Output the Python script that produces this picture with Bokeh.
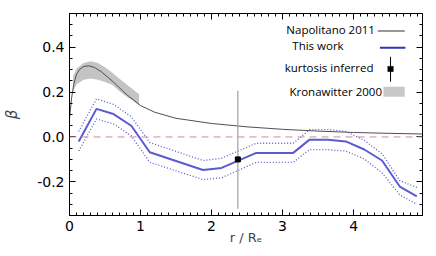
from bokeh.plotting import figure
from bokeh.models import (Range1d, LinearAxis, FixedTicker, PrintfTickFormatter,
                          Span, Label, Arrow, BoxAnnotation, CustomLabelingPolicy)
from bokeh.embed import file_html
from bokeh.resources import INLINE

# Napolitano 2011 model curve
nap_r = [0.0, 0.03, 0.06, 0.1, 0.15, 0.2, 0.27, 0.35, 0.45, 0.6, 0.8, 1.0,
         1.2, 1.5, 2.0, 2.5, 3.0, 3.5, 4.0, 4.5, 5.0]
nap_beta = [0.08, 0.175, 0.235, 0.28, 0.303, 0.314, 0.317, 0.31, 0.29, 0.25,
            0.19, 0.14, 0.11, 0.083, 0.06, 0.045, 0.034, 0.026, 0.02, 0.016, 0.013]

# Kronawitter 2000 band
kro_r = [0.05, 0.1, 0.2, 0.3, 0.4, 0.5, 0.6, 0.7, 0.8, 0.9, 0.98]
kro_low = [0.20, 0.235, 0.255, 0.26, 0.255, 0.245, 0.232, 0.205, 0.18, 0.16, 0.14]
kro_up = [0.27, 0.305, 0.33, 0.337, 0.33, 0.31, 0.287, 0.26, 0.235, 0.21, 0.19]

# This work
tw_r = [0.13, 0.38, 0.62, 0.87, 1.13, 1.88, 2.14, 2.63, 3.15, 3.38, 3.64,
        3.89, 4.15, 4.4, 4.65, 4.89]
tw_beta = [-0.02, 0.125, 0.102, 0.05, -0.068, -0.147, -0.138, -0.071, -0.071,
           -0.012, -0.013, -0.02, -0.056, -0.105, -0.221, -0.265]
tw_up = [0.025, 0.17, 0.145, 0.09, -0.025, -0.105, -0.095, -0.028, -0.028,
         0.032, 0.033, 0.025, -0.015, -0.075, -0.195, -0.225]
tw_low = [-0.062, 0.08, 0.058, 0.005, -0.113, -0.19, -0.182, -0.113, -0.113,
          -0.056, -0.057, -0.063, -0.098, -0.16, -0.258, -0.30]

# kurtosis inferred
kur_r = [2.37]
kur_beta = [-0.1]
kur_top = [0.206]
kur_bot = [-0.32]

x_ticks = [0, 1, 2, 3, 4]
y_ticks = [-0.2, 0.0, 0.2, 0.4]

BLUE = "#5a5ad2"
FONT = "DejaVu Sans"
LFONT = "Open Sans"

p = figure(width=436, height=256, output_backend="svg", toolbar_location=None,
           x_range=Range1d(0, 4.97), y_range=Range1d(-0.35, 0.55),
           min_border_left=68, min_border_right=14, min_border_top=13,
           min_border_bottom=41, background_fill_color="white")
p.grid.visible = False
p.outline_line_color = "black"
p.outline_line_width = 1

xt = FixedTicker(ticks=x_ticks, minor_ticks=[i / 10 for i in range(0, 50)])
yt = FixedTicker(ticks=y_ticks, minor_ticks=[-0.35 + i * 0.05 for i in range(19)])

no_labels = CustomLabelingPolicy(code="""
for (const i of indices) { indices.unset(i) }
return indices
""")

def style(ax, labels=True):
    ax.major_tick_in = 6
    ax.major_tick_out = 0
    ax.minor_tick_in = 3
    ax.minor_tick_out = 0
    ax.axis_line_color = "black"
    ax.major_tick_line_color = "black"
    ax.minor_tick_line_color = "black"
    if labels:
        ax.major_label_text_font = FONT
        ax.major_label_text_font_size = "14px"
        ax.major_label_text_color = "black"
        ax.major_label_standoff = 5
    else:
        ax.major_label_policy = no_labels
        ax.major_label_text_font_size = "1px"
        ax.major_label_standoff = 0

xa = p.xaxis[0]
xa.ticker = xt
xa.formatter = PrintfTickFormatter(format="%d")
style(xa)
xa.axis_label = "r / R\u2091"
xa.axis_label_text_font = FONT
xa.axis_label_text_font_size = "13px"
xa.axis_label_text_font_style = "normal"
xa.axis_label_standoff = -4

ya = p.yaxis[0]
ya.ticker = yt
ya.formatter = PrintfTickFormatter(format="%.1f")
style(ya)
ya.axis_label = "\u03b2"
ya.axis_label_text_font = FONT
ya.axis_label_text_font_size = "15px"
ya.axis_label_text_font_style = "italic"
ya.axis_label_standoff = 13

top = LinearAxis(ticker=xt, formatter=PrintfTickFormatter(format=""))
style(top, labels=False)
p.add_layout(top, "above")
right = LinearAxis(ticker=yt, formatter=PrintfTickFormatter(format=""))
style(right, labels=False)
p.add_layout(right, "right")

# zero line
p.add_layout(Span(location=0, dimension="width", line_color="#d08a9c",
                  line_dash="7 5", line_width=1))

# Kronawitter band
p.varea(x=kro_r, y1=kro_low, y2=kro_up, fill_color="#c4c4c4", fill_alpha=1)

# Napolitano curve
p.line(nap_r, nap_beta, line_color="#505050", line_width=1)

# This work
p.line(tw_r, tw_up, line_color=BLUE, line_width=1.3, line_dash="1 2")
p.line(tw_r, tw_low, line_color=BLUE, line_width=1.3, line_dash="1 2")
p.line(tw_r, tw_beta, line_color=BLUE, line_width=2)

# kurtosis inferred
p.segment(x0=kur_r, y0=kur_bot, x1=kur_r, y1=kur_top, line_color="#a0a0a0", line_width=1.2)
p.scatter(kur_r, kur_beta, marker="square", size=5, color="black")

# manual legend (label left of sample)
def ltext(x, y, t):
    p.add_layout(Label(x=x, y=y, text=t, text_align="right", text_baseline="middle",
                       text_font=LFONT, text_font_size="11.5px", text_color="black"))

ltext(4.30, 0.477, "Napolitano 2011")
p.add_layout(Arrow(x_start=4.34, y_start=0.472, x_end=4.72, y_end=0.472, end=None,
                   line_color="#303030", line_width=1.2))
ltext(3.86, 0.408, "This work")
p.add_layout(Arrow(x_start=4.37, y_start=0.397, x_end=4.73, y_end=0.397, end=None,
                   line_color="#2a3ab0", line_width=2))
ltext(4.28, 0.308, "kurtosis inferred")
p.add_layout(Arrow(x_start=4.52, y_start=0.357, x_end=4.52, y_end=0.246, end=None,
                   line_color="black", line_width=1))
p.add_layout(BoxAnnotation(left=4.48, right=4.56, bottom=0.291, top=0.315,
                           fill_color="black", fill_alpha=1, line_color="black"))
ltext(4.40, 0.201, "Kronawitter 2000")
p.add_layout(BoxAnnotation(left=4.42, right=4.72, bottom=0.179, top=0.224,
                           fill_color="#c8c8c8", fill_alpha=1, line_color=None))

open("out.html", "w").write(file_html(p, INLINE))
